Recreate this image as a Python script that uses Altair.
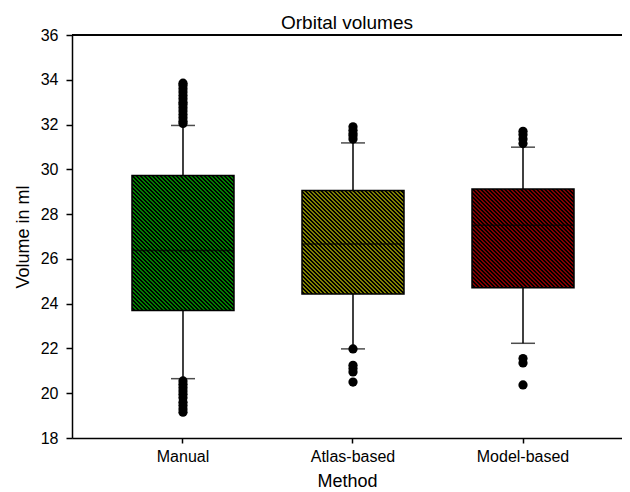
import altair as alt
import pandas as pd

# ---- data ----
methods = ["Manual", "Atlas-based", "Model-based"]
q1 = [23.69, 24.43, 24.71]
median = [26.37, 26.67, 27.50]
q3 = [29.72, 29.05, 29.12]
whisker_low = [20.65, 21.98, 22.23]
whisker_high = [31.96, 31.18, 30.99]
box_colors = ["#008000", "#808000", "#800000"]

outliers_manual = [32.05, 32.15, 32.3, 32.45, 32.6, 32.75, 32.9, 33.0, 33.15,
                   33.3, 33.45, 33.6, 33.75, 33.85,
                   20.55, 20.4, 20.25, 20.1, 19.95, 19.8, 19.6, 19.45, 19.3, 19.15]
outliers_atlas = [31.35, 31.5, 31.6, 31.75, 31.9,
                  21.98, 21.25, 21.1, 20.95, 20.5]
outliers_model = [31.15, 31.35, 31.55, 31.7,
                  21.55, 21.35, 20.37]

# ---- layout constants ----
W, H = 550, 403
Y_MIN, Y_MAX = 18, 36
BOX_W = 102
FONT = "Liberation Sans"

stats = pd.DataFrame({
    "method": methods, "q1": q1, "median": median, "q3": q3,
    "lo": whisker_low, "hi": whisker_high,
})
out_rows = []
for m, vals in zip(methods, [outliers_manual, outliers_atlas, outliers_model]):
    for v in vals:
        out_rows.append({"method": m, "value": v})
outs = pd.DataFrame(out_rows)

px_per_unit = H / (Y_MAX - Y_MIN)


def hatch(color, w, h, period=2 * 2 ** 0.5):
    length = (w + h) / 2 ** 0.5
    step = period / length
    stops = []
    pos = 0.0
    while pos < 1.0:
        mid = min(pos + step / 2, 1.0)
        end = min(pos + step, 1.0)
        stops += [{"offset": round(pos, 6), "color": color},
                  {"offset": round(mid, 6), "color": color},
                  {"offset": round(mid, 6), "color": "black"},
                  {"offset": round(end, 6), "color": "black"}]
        pos += step
    k = w * (w + h) / (w * w + h * h)
    return {"gradient": "linear", "x1": 0, "y1": 1, "x2": k, "y2": 1 - k * h / w,
            "stops": stops}


xscale = alt.Scale(type="band", domain=methods, paddingInner=0,
                   paddingOuter=0.1176, align=0.65)
yscale = alt.Scale(domain=[Y_MIN, Y_MAX], nice=False, zero=False)

xenc = alt.X("method:N", scale=xscale, sort=methods,
             axis=alt.Axis(title="Method", labelAngle=0, labelFontSize=16,
                           titleFontSize=18, labelFont=FONT, titleFont=FONT,
                           titleFontWeight="normal", labelColor="black",
                           titleColor="black", domainColor="black",
                           domainWidth=1.5, tickColor="black", tickWidth=1.5,
                           tickSize=5, labelPadding=5, titlePadding=8))
yaxis = alt.Axis(title="Volume in ml", values=list(range(18, 37, 2)),
                 labelFontSize=16, titleFontSize=18, labelFont=FONT,
                 titleFont=FONT, titleFontWeight="normal", labelColor="black",
                 titleColor="black", domainColor="black", domainWidth=1.5,
                 tickColor="black", tickWidth=1.5, tickSize=6, labelPadding=8,
                 titlePadding=8, grid=False)

base = alt.Chart(stats)

whisk_hi = base.mark_rule(color="black", strokeWidth=1.5).encode(
    x=xenc, y=alt.Y("q3:Q", scale=yscale, axis=yaxis), y2="hi:Q")
whisk_lo = base.mark_rule(color="black", strokeWidth=1.5).encode(
    x=xenc, y=alt.Y("lo:Q", scale=yscale), y2="q1:Q")
cap_hi = base.mark_tick(color="black", size=24, thickness=1.5).encode(
    x=xenc, y=alt.Y("hi:Q", scale=yscale))
cap_lo = base.mark_tick(color="black", size=24, thickness=1.5).encode(
    x=xenc, y=alt.Y("lo:Q", scale=yscale))

boxes = []
for m, c, a, b in zip(methods, box_colors, q1, q3):
    h = (b - a) * px_per_unit
    boxes.append(
        base.transform_filter(alt.datum.method == m)
        .mark_bar(size=BOX_W, fill=hatch(c, BOX_W, h), stroke="black",
                  strokeWidth=1.5)
        .encode(x=xenc, y=alt.Y("q1:Q", scale=yscale), y2="q3:Q")
    )

med = base.mark_tick(color="black", size=BOX_W, thickness=1.5).encode(
    x=xenc, y=alt.Y("median:Q", scale=yscale))

pts = alt.Chart(outs).mark_circle(color="black", size=85, opacity=1).encode(
    x=xenc, y=alt.Y("value:Q", scale=yscale))

top_border = alt.Chart(stats).mark_rule(color="black", strokeWidth=1.5).encode(
    x=alt.value(0), x2=alt.value(W), y=alt.value(0))

chart = alt.layer(whisk_hi, whisk_lo, cap_hi, cap_lo, *boxes, med, pts,
                  top_border).properties(
    width=W, height=H,
    title=alt.TitleParams("Orbital volumes", fontSize=19, font=FONT,
                          fontWeight="normal", anchor="middle", color="black",
                          offset=6, dy=12),
    padding={"left": 64, "top": 27, "right": 0, "bottom": 54},
    autosize=alt.AutoSizeParams(type="none"),
).configure_view(stroke=None).configure(background="white")

chart.save("out.html", embed_options={"renderer": "svg", "actions": False})
